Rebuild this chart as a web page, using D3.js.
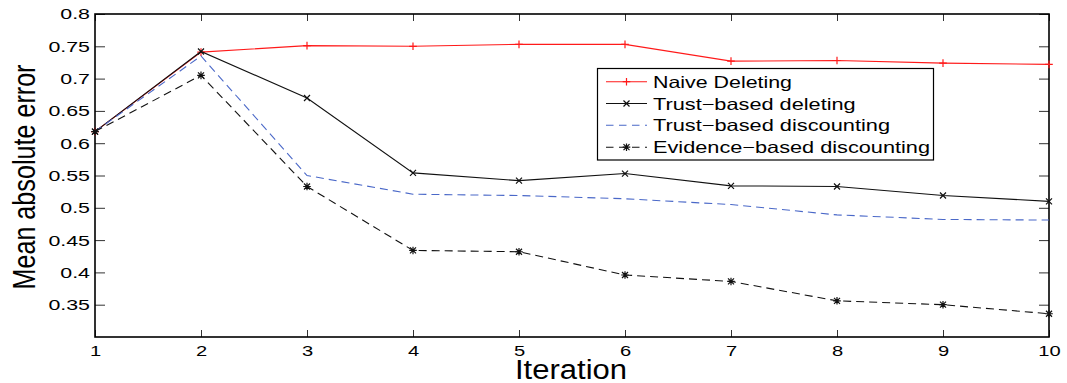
<!DOCTYPE html>
<html><head><meta charset="utf-8">
<script src="https://cdn.jsdelivr.net/npm/d3@7"></script>
<style>body{margin:0;background:#fff} svg{display:block;font-family:"Liberation Sans",Arial,Helvetica,sans-serif}</style>
</head><body><svg id="c" width="1067" height="383"></svg>
<script>
const iterations = [1,2,3,4,5,6,7,8,9,10];
const naiveDeleting = [0.618,0.741,0.751,0.750,0.753,0.753,0.727,0.728,0.724,0.722];
const trustDeleting = [0.618,0.742,0.670,0.554,0.542,0.553,0.534,0.533,0.519,0.510];
const trustDiscounting = [0.618,0.735,0.550,0.521,0.519,0.514,0.505,0.489,0.482,0.481];
const evidenceDiscounting = [0.618,0.705,0.533,0.434,0.432,0.396,0.386,0.356,0.350,0.336];
const seriesNames = ["Naive Deleting","Trust\u2212based deleting","Trust\u2212based discounting","Evidence\u2212based discounting"];
const yTicks = [0.35,0.4,0.45,0.5,0.55,0.6,0.65,0.7,0.75,0.8];
const yTickLabels = ["0.35","0.4","0.45","0.5","0.55","0.6","0.65","0.7","0.75","0.8"];
const xTickLabels = ["1","2","3","4","5","6","7","8","9","10"];
const xTitle = "Iteration";
const yTitle = "Mean absolute error";

const svg = d3.select("#c");
const L = 95, R = 1049, T = 14, B = 337;
const x = d3.scaleLinear().domain([1,10]).range([L,R]);
const y = d3.scaleLinear().domain([0.3,0.8]).range([B,T]);

const styles = [
  {data: naiveDeleting, color:"#ff1a1a", dash:null, marker:"plus"},
  {data: trustDeleting, color:"#111", dash:null, marker:"x"},
  {data: trustDiscounting, color:"#4a68c8", dash:"8,5", marker:null},
  {data: evidenceDiscounting, color:"#111", dash:"8,5", marker:"star"}
];

function markerPath(type, cx, cy) {
  const p = d3.path();
  const h = 3.8, d = 3;
  if (type === "plus" || type === "star") {
    p.moveTo(cx-h, cy); p.lineTo(cx+h, cy);
    p.moveTo(cx, cy-h); p.lineTo(cx, cy+h);
  }
  if (type === "x" || type === "star") {
    p.moveTo(cx-d, cy-d); p.lineTo(cx+d, cy+d);
    p.moveTo(cx-d, cy+d); p.lineTo(cx+d, cy-d);
  }
  return p.toString();
}

// axes
const yTickSx = 1.38, xTickSx = 1.3;
const gy = svg.append("g").attr("transform", `translate(${L},0)`)
  .call(d3.axisLeft(y).tickValues(yTicks).tickFormat((d,i)=>yTickLabels[i]).tickSize(-10).tickSizeOuter(0).tickPadding(5));
gy.selectAll("text").attr("x", -5/yTickSx).attr("transform", `scale(${yTickSx},1)`)
  .attr("font-size", 15.5).attr("font-family", "Liberation Sans, Arial, sans-serif").attr("fill", "#000");
const gyr = svg.append("g").attr("transform", `translate(${R},0)`)
  .call(d3.axisRight(y).tickValues(yTicks).tickFormat("").tickSize(-10).tickSizeOuter(0));
const gx = svg.append("g").attr("transform", `translate(0,${B})`)
  .call(d3.axisBottom(x).tickValues(iterations).tickFormat((d,i)=>xTickLabels[i]).tickSize(-7).tickSizeOuter(0).tickPadding(8));
gx.selectAll("text").attr("x", 0).attr("transform", `scale(${xTickSx},1)`)
  .attr("font-size", 15.5).attr("font-family", "Liberation Sans, Arial, sans-serif").attr("fill", "#000");
const gxt = svg.append("g").attr("transform", `translate(0,${T})`)
  .call(d3.axisTop(x).tickValues(iterations).tickFormat("").tickSize(-7).tickSizeOuter(0));
[gy, gyr, gx, gxt].forEach(g => {
  g.select(".domain").remove();
  g.selectAll(".tick line").attr("stroke", "#333").attr("stroke-width", 1);
});

svg.append("rect").attr("x", L).attr("y", T).attr("width", R-L).attr("height", B-T)
  .attr("fill", "none").attr("stroke", "#000").attr("stroke-width", 1.6);

// series
const line = d3.line().x((d,i)=>x(iterations[i])).y(d=>y(d));
styles.forEach(s => {
  svg.append("path").attr("d", line(s.data)).attr("fill","none")
    .attr("stroke", s.color).attr("stroke-width", 1.1)
    .attr("stroke-dasharray", s.dash);
  if (s.marker) {
    svg.append("g").selectAll("path").data(s.data).join("path")
      .attr("d", (d,i)=>markerPath(s.marker, x(iterations[i]), y(d)))
      .attr("stroke", s.color).attr("stroke-width", 1.2).attr("fill","none");
  }
});

// legend
const lg = svg.append("g");
lg.append("rect").attr("x", 597.5).attr("y", 68.5).attr("width", 336).attr("height", 91.5)
  .attr("fill", "#fff").attr("stroke", "#000").attr("stroke-width", 1.2);
const rowY = [81.7, 103.5, 125.3, 147.2];
const textLens = [139, 202.7, 237, 277];
styles.forEach((s, i) => {
  const cy = rowY[i];
  lg.append("line").attr("x1", 606).attr("x2", 647).attr("y1", cy).attr("y2", cy)
    .attr("stroke", s.color).attr("stroke-width", 1.1)
    .attr("stroke-dasharray", s.dash ? "7.5,5.5" : null);
  if (s.marker) {
    lg.append("path").attr("d", markerPath(s.marker, 626.5, cy))
      .attr("stroke", s.color).attr("stroke-width", 1.2).attr("fill","none");
  }
  lg.append("text").attr("x", 653).attr("y", cy + 6)
    .attr("font-size", 16.5).attr("textLength", textLens[i]).attr("lengthAdjust", "spacingAndGlyphs")
    .attr("fill", "#000").text(seriesNames[i]);
});

// titles
svg.append("text").attr("x", 571).attr("y", 378.5).attr("text-anchor", "middle")
  .attr("font-size", 27).attr("textLength", 112).attr("lengthAdjust", "spacingAndGlyphs")
  .attr("fill", "#000").text(xTitle);
svg.append("text").attr("transform", "translate(35,177) rotate(-90)").attr("text-anchor", "middle")
  .attr("font-size", 31).attr("textLength", 225).attr("lengthAdjust", "spacingAndGlyphs")
  .attr("fill", "#000").text(yTitle);
</script></body></html>
